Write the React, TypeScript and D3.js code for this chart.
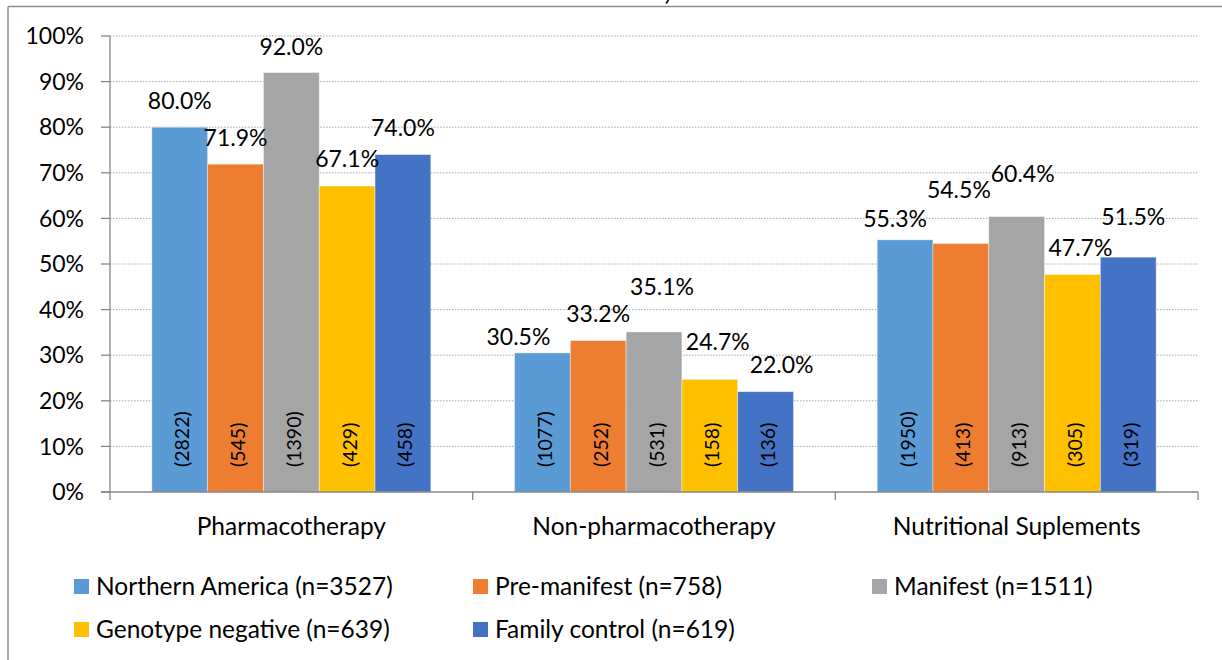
import React from "react";
import * as d3 from "d3";

const categories = ["Pharmacotherapy", "Non-pharmacotherapy", "Nutritional Suplements"];
const seriesNames = [
  "Northern America (n=3527)",
  "Pre-manifest (n=758)",
  "Manifest (n=1511)",
  "Genotype negative (n=639)",
  "Family control (n=619)",
];
const northernAmerica = [80.0, 30.5, 55.3];
const preManifest = [71.9, 33.2, 54.5];
const manifest = [92.0, 35.1, 60.4];
const genotypeNegative = [67.1, 24.7, 47.7];
const familyControl = [74.0, 22.0, 51.5];
const countsNorthernAmerica = [2822, 1077, 1950];
const countsPreManifest = [545, 252, 413];
const countsManifest = [1390, 531, 913];
const countsGenotypeNegative = [429, 158, 305];
const countsFamilyControl = [458, 136, 319];
const yTicks = [0, 10, 20, 30, 40, 50, 60, 70, 80, 90, 100];

// manual label nudges (px) as in the source chart [dx, dy] per category
const labelNudge = [
  [[0, 0], [-24, 10.5], [-10, 5.5]],
  [[0, 0], [0, 0], [-2, -26.5]],
  [[0, 1], [8, -18.5], [6, -16.5]],
  [[0, -1], [8, -10.5], [8, 0]],
  [[0, 0], [16, 0], [5, -13.5]],
];

const colors = ["#5B9BD5", "#ED7D31", "#A5A5A5", "#FFC000", "#4472C4"];
const values = [northernAmerica, preManifest, manifest, genotypeNegative, familyControl];
const counts = [countsNorthernAmerica, countsPreManifest, countsManifest, countsGenotypeNegative, countsFamilyControl];

const W = 1222;
const H = 660;
const FONT = "Lato, 'Open Sans', sans-serif";

export default function App() {
  const left = 110;
  const right = 1198;
  const top = 36;
  const bottom = 492;

  const x0 = d3.scaleBand<string>().domain(categories).range([left, right]).paddingInner(0).paddingOuter(0);
  const x1 = d3
    .scaleBand<number>()
    .domain(d3.range(seriesNames.length))
    .range([0, x0.bandwidth()])
    .paddingInner(0)
    .paddingOuter(0.75);
  const y = d3.scaleLinear().domain([0, 100]).range([bottom, top]);

  const legendCols = [74, 473, 872];
  const legendRows = [579, 622];

  return (
    <svg
      width={W}
      height={H}
      style={{ position: "absolute", left: 0, top: 0, background: "#fff" }}
      fontFamily={FONT}
    >
      {/* frame */}
      <line x1={8} x2={W} y1={6.5} y2={6.5} stroke="#8c8c8c" strokeWidth={1.5} />
      <line x1={8} x2={8} y1={6.5} y2={H} stroke="#8c8c8c" strokeWidth={1.5} />
      {/* descender of the clipped title above the frame */}
      <path d="M668.5,0 L666,3.5" stroke="#000" strokeWidth={1.6} fill="none" />

      {/* gridlines */}
      {yTicks.filter((t) => t > 0).map((t) => (
        <line
          key={"g" + t}
          x1={left}
          x2={right}
          y1={y(t)}
          y2={y(t)}
          stroke="#a6a6a6"
          strokeWidth={1}
          strokeDasharray="1.5 1.5"
        />
      ))}

      {/* bars */}
      {values.map((vals, si) =>
        vals.map((v, ci) => {
          const bx = (x0(categories[ci]) as number) + (x1(si) as number);
          return (
            <rect
              key={`b${si}-${ci}`}
              x={bx}
              y={y(v)}
              width={x1.bandwidth()}
              height={bottom - y(v)}
              fill={colors[si]}
              stroke="#ffffff"
              strokeOpacity={0.5}
              strokeWidth={0.8}
            />
          );
        })
      )}

      {/* axes */}
      <line x1={left} x2={left} y1={top} y2={bottom} stroke="#868686" strokeWidth={1.3} />
      {yTicks.map((t) => (
        <g key={"t" + t}>
          <line x1={left - 9} x2={left} y1={y(t)} y2={y(t)} stroke="#868686" strokeWidth={1.3} />
          <text x={84} y={y(t)} dy="0.36em" textAnchor="end" fontSize={23} fill="#000">
            {t}%
          </text>
        </g>
      ))}
      <line x1={left - 9} x2={right} y1={bottom} y2={bottom} stroke="#868686" strokeWidth={1.3} />
      {[...categories.map((c) => x0(c) as number), right].map((xx, i) => (
        <line key={"xt" + i} x1={xx} x2={xx} y1={bottom} y2={bottom + 8} stroke="#868686" strokeWidth={1.3} />
      ))}
      {categories.map((c) => (
        <text
          key={"c" + c}
          x={(x0(c) as number) + x0.bandwidth() / 2}
          y={535}
          textAnchor="middle"
          fontSize={24.5}
          fill="#000"
        >
          {c}
        </text>
      ))}

      {/* value labels */}
      {values.map((vals, si) =>
        vals.map((v, ci) => {
          const cx = (x0(categories[ci]) as number) + (x1(si) as number) + x1.bandwidth() / 2;
          const [dx, dy] = labelNudge[si][ci];
          return (
            <text
              key={`l${si}-${ci}`}
              x={cx + dx}
              y={y(v) - 18.5 + dy}
              textAnchor="middle"
              fontSize={23}
              fill="#000"
            >
              {v.toFixed(1)}%
            </text>
          );
        })
      )}

      {/* count labels */}
      {counts.map((cs, si) =>
        cs.map((n, ci) => {
          const cx = (x0(categories[ci]) as number) + (x1(si) as number) + x1.bandwidth() / 2 + 2;
          return (
            <text
              key={`n${si}-${ci}`}
              transform={`translate(${cx},467) rotate(-90)`}
              textAnchor="start"
              dominantBaseline="central"
              fontSize={19.5}
              fill="#000"
            >
              ({n})
            </text>
          );
        })
      )}

      {/* legend */}
      {seriesNames.map((s, i) => {
        const lx = legendCols[i % 3];
        const ly = legendRows[Math.floor(i / 3)];
        return (
          <g key={"lg" + i}>
            <rect x={lx} y={ly} width={15} height={15} fill={colors[i]} />
            <text x={lx + 22} y={ly + 16} fontSize={24.5} fill="#000">
              {s}
            </text>
          </g>
        );
      })}
    </svg>
  );
}
